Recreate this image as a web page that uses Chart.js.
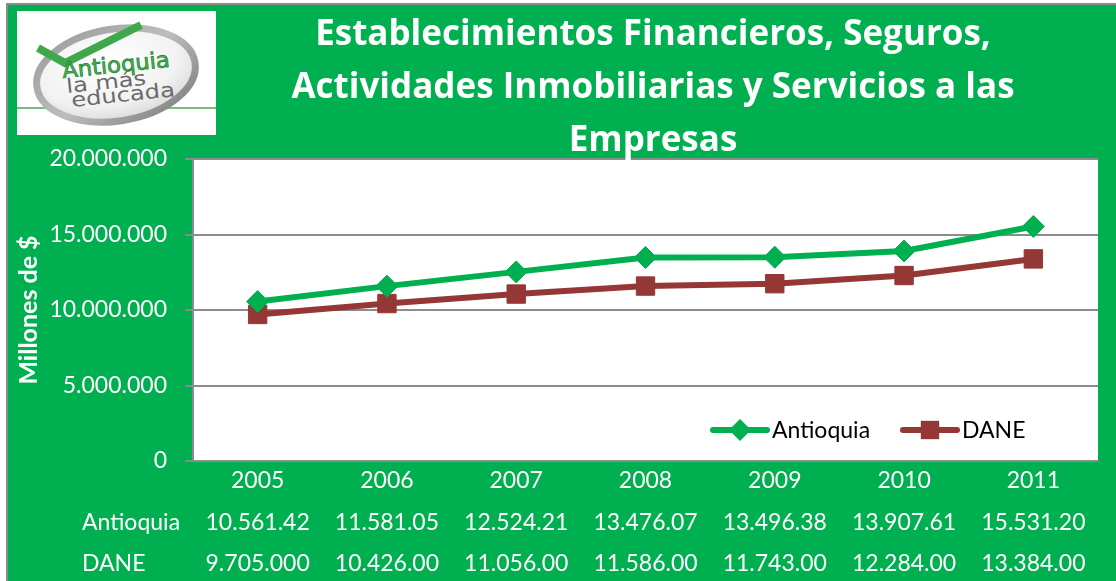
<!DOCTYPE html>
<html>
<head>
<meta charset="utf-8">
<script src="https://cdn.jsdelivr.net/npm/chart.js@4.4.1/dist/chart.umd.min.js"></script>
<style>
html,body{margin:0;padding:0;background:#fff;width:1116px;height:581px;overflow:hidden;}
#bg{position:absolute;left:6px;top:3px;width:1110px;height:578px;background:#00B050;border-left:2px solid #8c8c8c;border-top:2px solid #8c8c8c;box-sizing:border-box;}
#wrap{position:absolute;left:0;top:0;width:1116px;height:581px;}
#title{position:absolute;left:200px;width:906px;top:5px;text-align:center;color:#fff;font-family:"Open Sans",sans-serif;font-weight:bold;font-size:35px;line-height:53px;letter-spacing:0px;}
#logo{position:absolute;left:17px;top:11px;width:199px;height:124px;background:#fff;}
</style>
</head>
<body>
<div id="bg"></div>
<div id="logo">
<svg width="199" height="124" viewBox="0 0 199 124">
<defs>
<radialGradient id="fillg" cx="0.45" cy="0.35" r="0.75"><stop offset="0" stop-color="#ffffff"/><stop offset="0.6" stop-color="#f2f2f2"/><stop offset="1" stop-color="#d0d0d0"/></radialGradient>
<linearGradient id="ring" x1="0" y1="0" x2="1" y2="1"><stop offset="0" stop-color="#9a9a9a"/><stop offset="0.5" stop-color="#bdbdbd"/><stop offset="1" stop-color="#7a7a7a"/></linearGradient>
</defs>
<line x1="0" y1="97" x2="199" y2="97" stroke="#74bf7b" stroke-width="2"/>
<g transform="rotate(-9 99 64)">
<ellipse cx="99" cy="64" rx="80" ry="46" fill="url(#fillg)" stroke="url(#ring)" stroke-width="7"/>
</g>
<path d="M21 37 L48 52 L124 14" fill="none" stroke="#3fa84a" stroke-width="8" stroke-linejoin="miter"/>
<g font-family="DejaVu Sans, sans-serif">
<text x="46" y="67" font-size="22" fill="#43b64f" stroke="#237d36" stroke-width="0.7" textLength="108" lengthAdjust="spacingAndGlyphs" transform="rotate(-6 46 67)">Antioquia</text>
<text x="50" y="82" font-size="20" fill="#6b6b6b" textLength="80" lengthAdjust="spacingAndGlyphs" transform="rotate(-6 50 82)">la más</text>
<text x="55" y="96" font-size="20" fill="#6b6b6b" textLength="104" lengthAdjust="spacingAndGlyphs" transform="rotate(-6 55 96)">educada</text>
</g>
</svg>
</div>
<div id="wrap"><canvas id="c" width="1116" height="581"></canvas></div>
<div id="title">Establecimientos Financieros, Seguros,<br>Actividades Inmobiliarias y Servicios a las<br>Empresas</div>
<script>
const years = ['2005', '2006', '2007', '2008', '2009', '2010', '2011'];
const seriesNames = ['Antioquia', 'DANE'];
const antioquia = [10561420, 11581050, 12524210, 13476070, 13496380, 13907610, 15531200];
const dane = [9705000, 10426000, 11056000, 11586000, 11743000, 12284000, 13384000];
const antioquiaTable = ['10.561.42', '11.581.05', '12.524.21', '13.476.07', '13.496.38', '13.907.61', '15.531.20'];
const daneTable = ['9.705.000', '10.426.00', '11.056.00', '11.586.00', '11.743.00', '12.284.00', '13.384.00'];
const yMin = 0, yMax = 20000000, yStep = 5000000;

const GREEN = '#00B050';
const RED = '#953735';
const GRID = '#8c8c8c';
const FONT = 'Lato, sans-serif';

function fmt(v) {
  return String(Math.round(v)).replace(/\B(?=(\d{3})+(?!\d))/g, '.');
}

const plotBg = {
  id: 'plotBg',
  beforeDraw(chart) {
    const {ctx, chartArea: a} = chart;
    ctx.save();
    ctx.fillStyle = '#ffffff';
    ctx.fillRect(a.left, a.top, a.right - a.left, a.bottom - a.top);
    ctx.restore();
  }
};

function drawMarker(ctx, style, x, y, r, color) {
  ctx.save();
  ctx.fillStyle = color;
  ctx.beginPath();
  if (style === 'rectRot') {
    ctx.moveTo(x - r, y); ctx.lineTo(x, y - r); ctx.lineTo(x + r, y); ctx.lineTo(x, y + r);
  } else {
    const s = r * Math.SQRT1_2;
    ctx.rect(x - s, y - s, 2 * s, 2 * s);
  }
  ctx.closePath();
  ctx.fill();
  ctx.restore();
}

const legendAndTable = {
  id: 'legendAndTable',
  afterDraw(chart) {
    const {ctx, chartArea: a} = chart;
    const xs = chart.scales.x;
    ctx.save();
    const ly = a.bottom - 31;
    const items = [
      {name: seriesNames[0], color: GREEN, style: 'rectRot', r: 11, x: a.right - 385},
      {name: seriesNames[1], color: RED, style: 'rect', r: 13, x: a.right - 195}
    ];
    ctx.font = '23px ' + FONT;
    ctx.textBaseline = 'middle';
    ctx.textAlign = 'left';
    items.forEach(it => {
      ctx.strokeStyle = it.color;
      ctx.lineWidth = 6;
      ctx.lineCap = 'round';
      ctx.beginPath();
      ctx.moveTo(it.x, ly);
      ctx.lineTo(it.x + 54, ly);
      ctx.stroke();
      drawMarker(ctx, it.style, it.x + 27, ly, it.r, it.color);
      ctx.fillStyle = '#000';
      ctx.fillText(it.name, it.x + 59, ly + 1);
    });
    ctx.fillStyle = '#ffffff';
    ctx.font = '23px ' + FONT;
    const rows = [
      {label: seriesNames[0], vals: antioquiaTable, y: 523},
      {label: seriesNames[1], vals: daneTable, y: 564}
    ];
    rows.forEach(row => {
      ctx.textAlign = 'left';
      ctx.fillText(row.label, 82, row.y);
      ctx.textAlign = 'center';
      row.vals.forEach((v, i) => {
        ctx.fillText(v, xs.getPixelForValue(i), row.y);
      });
    });
    ctx.restore();
  }
};

new Chart(document.getElementById('c'), {
  type: 'line',
  data: {
    labels: years,
    datasets: [
      {
        label: seriesNames[0], data: antioquia,
        borderColor: GREEN, backgroundColor: GREEN, borderWidth: 6,
        pointStyle: 'rectRot', pointRadius: 11, pointHoverRadius: 11,
        pointBackgroundColor: GREEN, pointBorderColor: GREEN, pointBorderWidth: 1,
        tension: 0, fill: false
      },
      {
        label: seriesNames[1], data: dane,
        borderColor: RED, backgroundColor: RED, borderWidth: 6,
        pointStyle: 'rect', pointRadius: 13, pointHoverRadius: 13,
        pointBackgroundColor: RED, pointBorderColor: RED, pointBorderWidth: 1,
        tension: 0, fill: false
      }
    ]
  },
  options: {
    responsive: false,
    animation: false,
    events: [],
    layout: {padding: {left: 0, top: 159, right: 18, bottom: 0}},
    plugins: {legend: {display: false}, title: {display: false}, tooltip: {enabled: false}},
    scales: {
      x: {
        type: 'category', offset: true,
        grid: {display: false, drawTicks: false},
        border: {display: true, color: GRID, width: 2},
        ticks: {color: '#ffffff', font: {family: FONT, size: 23}, padding: 6, maxRotation: 0, autoSkip: false},
        afterFit(s) { s.height = 120; }
      },
      y: {
        min: yMin, max: yMax,
        grid: {color: GRID, lineWidth: 2, drawTicks: true, tickLength: 8, tickColor: GRID},
        border: {display: true, color: GRID, width: 2},
        ticks: {stepSize: yStep, color: '#ffffff', font: {family: FONT, size: 23}, padding: 18, callback: v => fmt(v)},
        title: {display: true, text: 'Millones de $', color: '#ffffff', font: {family: FONT, size: 25, weight: 'bold'}, padding: {top: 14, bottom: 0}},
        afterFit(s) { s.width = 193; }
      }
    }
  },
  plugins: [plotBg, legendAndTable]
});
</script>
</body>
</html>
